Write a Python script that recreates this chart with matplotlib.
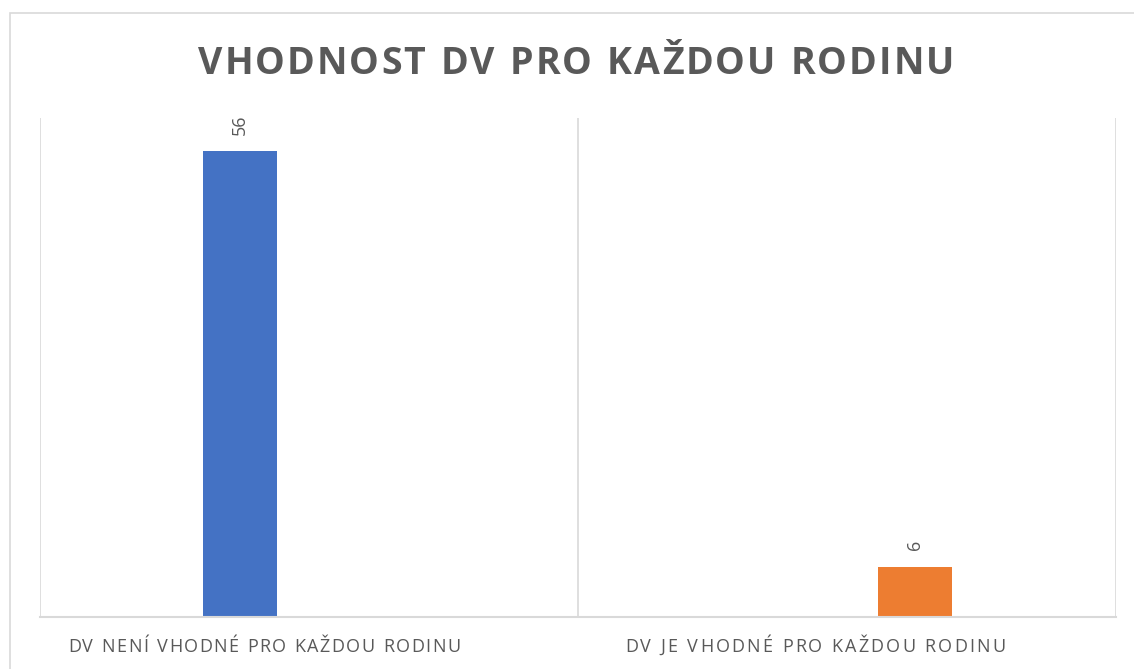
import matplotlib
matplotlib.use("Agg")
import matplotlib.pyplot as plt
from matplotlib.patches import Rectangle
from matplotlib.font_manager import FontProperties

# ---- data ----
categories = ["DV NENÍ VHODNÉ PRO KAŽDOU RODINU", "DV JE VHODNÉ PRO KAŽDOU RODINU"]
series_names = ["DV není vhodné", "DV je vhodné"]
series_values = [[56, None], [None, 6]]
series_colors = ["#4472C4", "#ED7D31"]
title = "VHODNOST DV PRO KAŽDOU RODINU"

W, H = 1134, 669
fig = plt.figure(figsize=(W / 100, H / 100), dpi=100)
FONT = "Open Sans"
GRAY = "#595959"
GRID = "#d9d9d9"

def px(x, y):
    return x / W, 1 - y / H

# outer chart border
fig.patches.append(Rectangle(px(10, 700), (1200 - 10) / W, (700 - 13) / H,
                             transform=fig.transFigure, fill=False,
                             edgecolor=GRID, linewidth=1.2, clip_on=False))

l, b = px(39.5, 617)
r, t = px(1115.5, 118)
ax = fig.add_axes([l, b, r - l, t - b])
ax.set_xlim(-0.5, len(categories) - 0.5)
ax.set_ylim(0, 60)
for s in ["top", "left", "right"]:
    ax.spines[s].set_visible(False)
ax.spines["bottom"].set_color(GRID)
ax.spines["bottom"].set_linewidth(1.5)
ax.set_yticks([])
ax.set_xticks([])
for xb in [-0.5 + i for i in range(len(categories) + 1)]:
    ax.axvline(xb, color=GRID, linewidth=1.2, zorder=0)

cat_w_px = (1115.5 - 39.5) / len(categories)
bar_w = 74 / cat_w_px
offsets = [-68.5 / cat_w_px, 68.5 / cat_w_px]
for si, (vals, col) in enumerate(zip(series_values, series_colors)):
    for ci, v in enumerate(vals):
        if v is None:
            continue
        x = ci + offsets[si]
        ax.bar(x, v, width=bar_w, color=col, zorder=2)
        ax.annotate(str(v), (x, v), xytext=(0, 12), textcoords="offset points",
                    rotation=90, ha="center", va="bottom", fontsize=13,
                    color=GRAY, family=FONT)

fig.canvas.draw()
renderer = fig.canvas.get_renderer()

def spaced_text(s, left_px, right_px, baseline_px, size, weight, space_em):
    prop = FontProperties(family=FONT, size=size, weight=weight)
    def wd(txt):
        return renderer.get_text_width_height_descent(txt, prop, ismath=False)[0]
    size_px = size * 100 / 72
    widths = [size_px * space_em if ch == " " else wd(ch) for ch in s]
    extra = ((right_px - left_px) - sum(widths)) / (len(s) - 1)
    x = left_px
    for ch, w in zip(s, widths):
        if ch != " ":
            fig.text(x / W, 1 - baseline_px / H, ch, fontproperties=prop,
                     color=GRAY, ha="left", va="baseline")
        x += w + extra

spaced_text(title, 198, 954, 74, 27, "bold", 0.3)
spaced_text(categories[0], 68, 460, 652, 13, "normal", 0.3)
spaced_text(categories[1], 625, 1005, 652, 13, "normal", 0.3)

fig.savefig("out.png", dpi=100)
